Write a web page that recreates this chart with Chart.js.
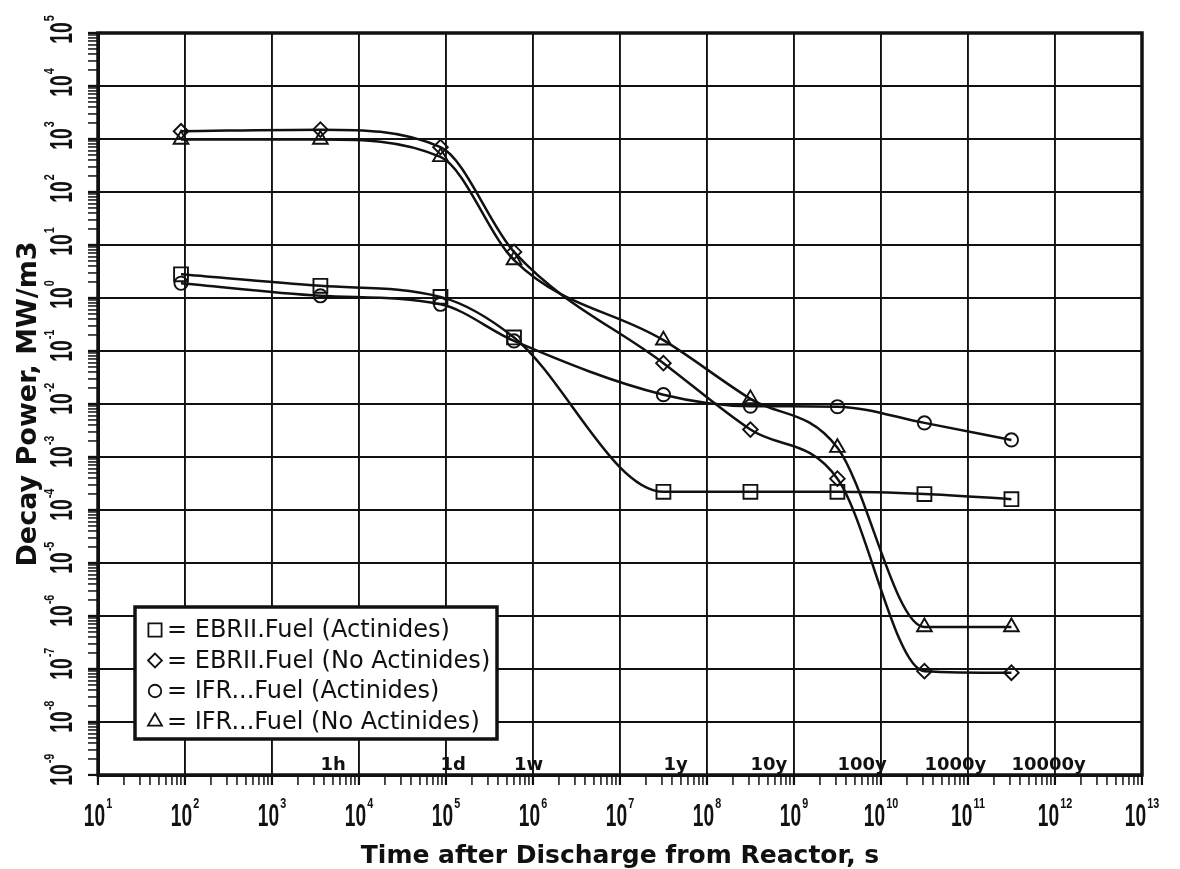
<!DOCTYPE html>
<html><head><meta charset="utf-8">
<script src="https://cdn.jsdelivr.net/npm/chart.js@4.4.0/dist/chart.umd.min.js"></script>
<style>html,body{margin:0;padding:0;background:#fff;}#wrap{width:1180px;height:869px;position:relative;}</style>
</head><body><div id="wrap"><canvas id="c"></canvas></div>
<script>
// ---- data ----
const seriesNames = ['EBRII.Fuel (Actinides)', 'EBRII.Fuel (No Actinides)', 'IFR...Fuel (Actinides)', 'IFR...Fuel (No Actinides)'];
const timeSeconds = [90, 3600, 86400, 604800, 3.156e7, 3.156e8, 3.156e9, 3.156e10, 3.156e11];
const ebriiActinides   = [2.8, 1.7, 1.05, 0.18, 2.2e-4, 2.2e-4, 2.2e-4, 2.0e-4, 1.6e-4];
const ebriiNoActinides = [1.4e3, 1.5e3, 7.0e2, 7.4, 5.9e-2, 3.3e-3, 3.9e-4, 9.1e-8, 8.5e-8];
const ifrActinides     = [1.9, 1.1, 0.76, 0.155, 1.5e-2, 9.1e-3, 8.9e-3, 4.4e-3, 2.1e-3];
const ifrNoActinides   = [9.8e2, 9.8e2, 4.6e2, 5.2, 0.16, 1.25e-2, 1.5e-3, 6.2e-7, 6.2e-7];
const tickBase = '10';
const xTickExps = [1,2,3,4,5,6,7,8,9,10,11,12,13];
const xTickExpLabels = ['1','2','3','4','5','6','7','8','9','10','11','12','13'];
const yTickExps = [-9,-8,-7,-6,-5,-4,-3,-2,-1,0,1,2,3,4,5];
const yTickExpLabels = ['-9','-8','-7','-6','-5','-4','-3','-2','-1','0','1','2','3','4','5'];
const timeMarkLabels = ['1h','1d','1w','1y','10y','100y','1000y','10000y'];
const timeMarkSeconds = [3600, 86400, 604800, 3.156e7, 3.156e8, 3.156e9, 3.156e10, 3.156e11];
const xTitle = 'Time after Discharge from Reactor, s';
const yTitle = 'Decay Power, MW/m3';

// ---- styles ----
const INK = '#111';
const markerStyles = [
  {pointStyle: 'rect', radius: 9.8},
  {pointStyle: 'rectRot', radius: 7.3},
  {pointStyle: 'circle', radius: 6.6},
  {pointStyle: 'triangle', radius: 8.5}
];
const seriesValues = [ebriiActinides, ebriiNoActinides, ifrActinides, ifrNoActinides];
const BASE_FONT = "bold 32px 'Liberation Sans', sans-serif";
const EXP_FONT = "bold 15px 'Liberation Sans', sans-serif";
const BASE_SX = 0.6, EXP_SX = 0.72;

function logTicks(exps) {
  const t = [];
  for (let i = 0; i < exps.length; i++) {
    const e = exps[i];
    t.push({value: Math.pow(10, e), major: true});
    if (i < exps.length - 1) {
      for (let m = 2; m <= 9; m++) t.push({value: m * Math.pow(10, e), major: false});
    }
  }
  return t;
}

const datasets = seriesValues.map((vals, i) => ({
  label: seriesNames[i],
  data: timeSeconds.map((t, j) => ({x: t, y: vals[j]})),
  borderColor: INK,
  borderWidth: 2.5,
  backgroundColor: 'rgba(0,0,0,0)',
  pointStyle: markerStyles[i].pointStyle,
  pointRadius: markerStyles[i].radius,
  pointBorderWidth: 1.9,
  pointBorderColor: INK,
  pointBackgroundColor: 'rgba(0,0,0,0)',
  cubicInterpolationMode: 'monotone',
  fill: false
}));

// power-of-ten tick label: condensed "10" plus raised exponent
function drawPowerLabel(ctx, expText, ax, ay, rotated) {
  ctx.save();
  ctx.translate(ax, ay);
  if (rotated) ctx.rotate(-Math.PI / 2);
  ctx.fillStyle = INK;
  ctx.textBaseline = 'alphabetic';
  ctx.textAlign = 'left';
  ctx.font = BASE_FONT;
  const wb = ctx.measureText(tickBase).width * BASE_SX;
  ctx.font = EXP_FONT;
  const we = ctx.measureText(expText).width * EXP_SX;
  const start = rotated ? -wb / 2 : -(wb + we + 1) / 2;
  ctx.save(); ctx.translate(start, 0); ctx.scale(BASE_SX, 1); ctx.font = BASE_FONT; ctx.fillText(tickBase, 0, 0); ctx.restore();
  ctx.save(); ctx.translate(start + wb + 1, -18); ctx.scale(EXP_SX, 1); ctx.font = EXP_FONT; ctx.fillText(expText, 0, 0); ctx.restore();
  ctx.restore();
}

const tickLabelPlugin = {
  id: 'powTicks',
  afterDraw(chart) {
    const {ctx} = chart;
    const xs = chart.scales.x, ys = chart.scales.y;
    xs.ticks.forEach((t) => {
      if (!t.major) return;
      const k = xTickExps.indexOf(Math.round(Math.log10(t.value)));
      if (k < 0) return;
      drawPowerLabel(ctx, xTickExpLabels[k], xs.getPixelForValue(t.value), xs.top + 51, false);
    });
    ys.ticks.forEach((t) => {
      if (!t.major) return;
      const k = yTickExps.indexOf(Math.round(Math.log10(t.value)));
      if (k < 0) return;
      drawPowerLabel(ctx, yTickExpLabels[k], ys.right - 26, ys.getPixelForValue(t.value), true);
    });
  }
};

const framePlugin = {
  id: 'frame',
  afterDatasetsDraw(chart) {
    const {ctx, chartArea: a} = chart;
    ctx.save();
    ctx.strokeStyle = INK; ctx.lineWidth = 3.5;
    ctx.strokeRect(a.left, a.top, a.right - a.left, a.bottom - a.top);
    ctx.restore();
  }
};

const timeMarksPlugin = {
  id: 'timeMarks',
  afterDatasetsDraw(chart) {
    const {ctx, chartArea: a} = chart;
    const xs = chart.scales.x;
    ctx.save();
    ctx.fillStyle = INK;
    ctx.font = "bold 18px 'DejaVu Sans', sans-serif";
    ctx.textAlign = 'left';
    ctx.textBaseline = 'alphabetic';
    timeMarkLabels.forEach((lab, i) => {
      ctx.fillText(lab, xs.getPixelForValue(timeMarkSeconds[i]), a.bottom - 5);
    });
    ctx.restore();
  }
};

function drawMarker(ctx, style, radius, x, y) {
  const H = Chart.helpers;
  if (H && H.drawPoint) {
    H.drawPoint(ctx, {pointStyle: style, radius: radius, borderWidth: 1.8, rotation: 0}, x, y);
    return;
  }
  ctx.beginPath();
  if (style === 'circle') ctx.arc(x, y, radius, 0, Math.PI * 2);
  else if (style === 'rect') { const s = radius * Math.SQRT1_2; ctx.rect(x - s, y - s, 2 * s, 2 * s); }
  else if (style === 'rectRot') { ctx.moveTo(x - radius, y); ctx.lineTo(x, y - radius); ctx.lineTo(x + radius, y); ctx.lineTo(x, y + radius); ctx.closePath(); }
  else { ctx.moveTo(x, y - radius); ctx.lineTo(x + radius * 0.866, y + radius / 2); ctx.lineTo(x - radius * 0.866, y + radius / 2); ctx.closePath(); }
  ctx.stroke();
}

const legendBoxPlugin = {
  id: 'legendBox',
  afterDatasetsDraw(chart) {
    const {ctx, chartArea: a} = chart;
    const w = 362, h = 132;
    const x0 = a.left + 37, y0 = a.bottom - 36 - h;
    ctx.save();
    ctx.fillStyle = '#fff';
    ctx.fillRect(x0, y0, w, h);
    ctx.lineWidth = 3.5; ctx.strokeStyle = INK;
    ctx.strokeRect(x0, y0, w, h);
    ctx.font = "24px 'DejaVu Sans', sans-serif";
    ctx.textBaseline = 'middle';
    ctx.textAlign = 'left';
    seriesNames.forEach((name, i) => {
      const cy = y0 + 23 + i * 30.5;
      ctx.save();
      ctx.strokeStyle = INK; ctx.fillStyle = 'rgba(0,0,0,0)'; ctx.lineWidth = 1.8;
      drawMarker(ctx, markerStyles[i].pointStyle, markerStyles[i].radius * 0.95, x0 + 20, cy);
      ctx.restore();
      ctx.fillStyle = INK;
      ctx.fillText('= ' + name, x0 + 32, cy + 1);
    });
    ctx.restore();
  }
};

const gridCommon = {
  color: (c) => (c.tick && c.tick.major) ? INK : 'rgba(0,0,0,0)',
  lineWidth: 1.9,
  tickColor: INK,
  tickWidth: (c) => (c.tick && c.tick.major) ? 2.2 : 1.5,
  tickLength: 10,
  drawTicks: true
};

const chart = new Chart(document.getElementById('c'), {
  type: 'line',
  data: {datasets},
  plugins: [framePlugin, timeMarksPlugin, legendBoxPlugin, tickLabelPlugin],
  options: {
    responsive: true,
    maintainAspectRatio: false,
    animation: false,
    layout: {padding: {top: 33, right: 38, left: 0, bottom: 0}},
    plugins: {legend: {display: false}, tooltip: {enabled: false}},
    scales: {
      x: {
        type: 'logarithmic',
        min: 10, max: 1e13,
        afterBuildTicks: (s) => { s.ticks = logTicks(xTickExps); },
        afterFit: (s) => { s.height = 94; },
        border: {display: true, color: INK, width: 3},
        grid: gridCommon,
        ticks: {display: false, autoSkip: false},
        title: {display: true, text: xTitle, color: INK,
          font: {family: "'DejaVu Sans', sans-serif", size: 25, weight: 'bold', lineHeight: 1},
          padding: {top: 0, bottom: 0}}
      },
      y: {
        type: 'logarithmic',
        min: 1e-9, max: 1e5,
        afterBuildTicks: (s) => { s.ticks = logTicks(yTickExps); },
        afterFit: (s) => { s.width = 98; },
        border: {display: true, color: INK, width: 3},
        grid: gridCommon,
        ticks: {display: false, autoSkip: false},
        title: {display: true, text: yTitle, color: INK,
          font: {family: "'DejaVu Sans', sans-serif", size: 27, weight: 'bold', lineHeight: 1.2},
          padding: {top: 13, bottom: 0}}
      }
    }
  }
});
</script>
</body></html>
